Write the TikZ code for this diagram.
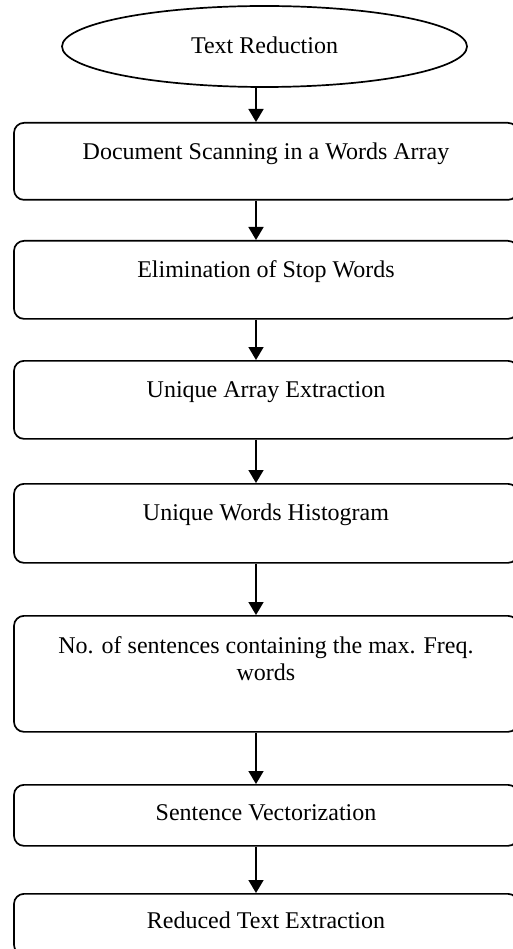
\documentclass[tikz,border=0pt]{standalone}
\usepackage{fontspec}
\setmainfont{Liberation Serif}
\usetikzlibrary{arrows.meta, positioning, shapes.geometric}

\tikzset{
  flowbox/.style={draw, line width=1.7pt, rounded corners=10pt, anchor=north,
    minimum width=504pt, inner xsep=0pt, inner ysep=0pt, text height=37pt},
  flowarrow/.style={line width=1.7pt, -{Triangle[width=15pt,length=13pt]}}
}

\begin{document}
\begin{tikzpicture}[x=1pt, y=-1pt, font=\fontsize{24}{27}\selectfont]
  \useasboundingbox (0,0) rectangle (513,949);
  \clip (0,0) rectangle (513,949);

  % Start
  \node[draw, line width=1.7pt, ellipse, minimum width=405pt, minimum height=81pt, inner sep=0pt]
    (reduce) at (264.5,46.5) {\raisebox{3pt}{Text Reduction}};

  % Steps
  \node[flowbox, text depth=40pt] (scan) at (266,122) {Document Scanning in a Words Array};
  \node[flowbox, text depth=41pt] (stop) at (266,240) {Elimination of Stop Words};
  \node[flowbox, text depth=41pt] (unique) at (266,360) {Unique Array Extraction};
  \node[flowbox, text depth=42pt] (histo) at (266,483) {Unique Words Histogram};
  \node[flowbox, text height=38pt, text depth=78pt] (maxfreq) at (266,615)
    {\parbox[t]{480pt}{\centering No. of sentences containing the max. Freq.\\ words}};
  \node[flowbox, text height=36pt, text depth=25pt] (vector) at (266,784) {Sentence Vectorization};
  \node[flowbox, text height=35pt, text depth=26pt] (extract) at (266,893) {Reduced Text Extraction};

  % Arrows
  \draw[flowarrow] ([xshift=-8.5pt]reduce.south) -- ([xshift=-10pt]scan.north);
  \foreach \a/\b in {scan/stop, stop/unique, unique/histo, histo/maxfreq, maxfreq/vector, vector/extract}
    \draw[flowarrow] ([xshift=-10pt]\a.south) -- ([xshift=-10pt]\b.north);
\end{tikzpicture}
\end{document}
